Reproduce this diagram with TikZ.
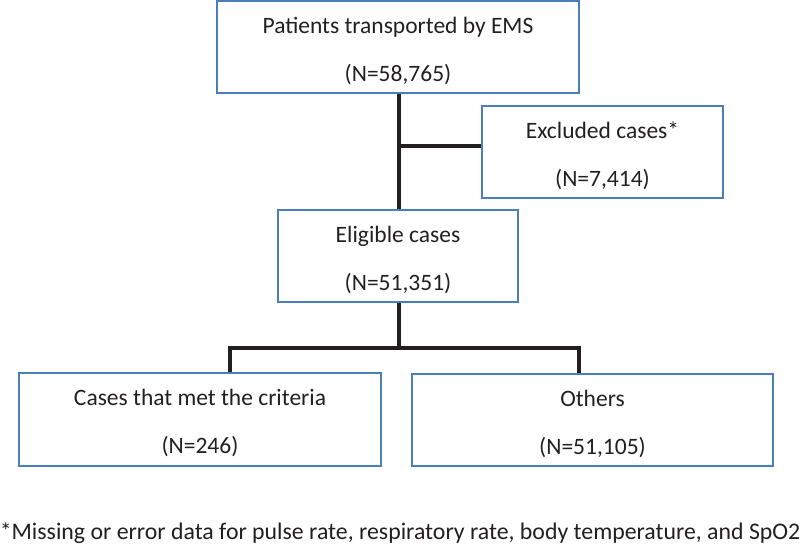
\documentclass[tikz,border=0pt]{standalone}
\usepackage{fontspec}
\setmainfont{Carlito}
\definecolor{boxblue}{HTML}{4A7EBB}
\definecolor{ink}{HTML}{231F20}
\newcommand{\upstrut}{\rule{0pt}{23.5pt}}
\begin{document}
\begin{tikzpicture}[x=1pt,y=-1pt,
  box/.style={draw=boxblue,line width=1.8pt,inner sep=0pt,align=center,text=ink,
    font=\fontsize{23.5}{48}\selectfont},
  conn/.style={draw=ink,line width=3.8pt}]
\useasboundingbox (0,0) rectangle (800,554);
\node[box,minimum width=362,minimum height=92] (top) at (398,47) {\upstrut Patients transported by EMS\\(N=58,765)};
\node[box,minimum width=241,minimum height=92] (exc) at (602.5,152) {\upstrut Excluded cases*\\(N=7,414)};
\node[box,minimum width=240,minimum height=92] (elig) at (398,256) {\upstrut Eligible cases\\(N=51,351)};
\node[box,minimum width=362,minimum height=93] (met) at (200,419.5) {\upstrut Cases that met the criteria\\(N=246)};
\node[box,minimum width=361,minimum height=92] (oth) at (592.5,420) {\upstrut Others\\(N=51,105)};
\node[text=ink,font=\fontsize{23.8}{28}\selectfont,inner sep=0pt] (note) at (400,533) {*Missing or error data for pulse rate, respiratory rate, body temperature, and SpO2};
\coordinate (b) at (399,146);
\coordinate (j) at (399,348);
\draw[conn] (top.south -| b) -- (elig.north -| b);
\draw[conn] (b) -- (exc.west |- b);
\draw[conn] (elig.south -| j) -- (j);
\draw[conn] (met.north -| 230,0) |- (j) -| (oth.north -| 579,0);
\end{tikzpicture}
\end{document}
